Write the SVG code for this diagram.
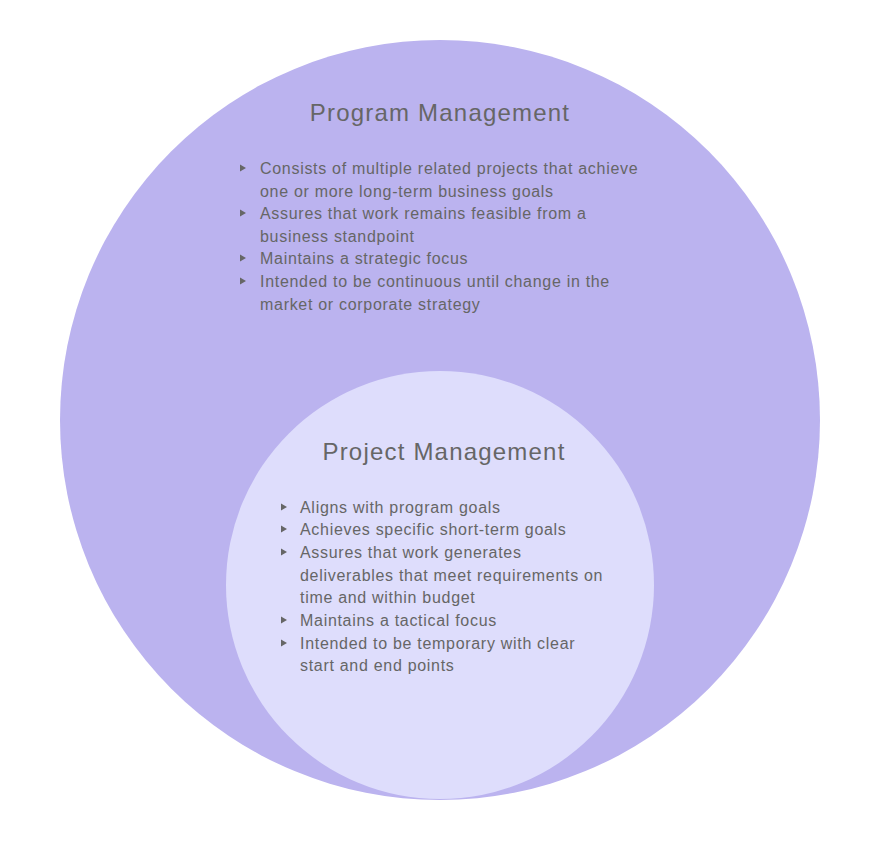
<svg xmlns="http://www.w3.org/2000/svg" width="880" height="860" viewBox="0 0 880 860">
<style>
.t{font-family:"Liberation Sans",Arial,sans-serif;font-size:24px;fill:#666;text-anchor:middle;letter-spacing:1.2px}
.b{font-family:"Liberation Sans",Arial,sans-serif;font-size:16px;fill:#666;letter-spacing:0.7px}
.m{fill:#666}
</style>
<defs>
<path id="tri" d="M0,-3.5 L6,0 L0,3.5 Z"/>
</defs>
<rect width="880" height="860" fill="#fff"/>
<g id="program">
<circle cx="440" cy="420" r="380" fill="#BBB3EF"/>
<text class="t" x="440" y="121">Program Management</text>
<g class="m">
<use href="#tri" x="240" y="168"/>
<use href="#tri" x="240" y="213"/>
<use href="#tri" x="240" y="258"/>
<use href="#tri" x="240" y="281"/>
</g>
<text class="b" x="260" y="174">Consists of multiple related projects that achieve</text>
<text class="b" x="260" y="197">one or more long-term business goals</text>
<text class="b" x="260" y="219">Assures that work remains feasible from a</text>
<text class="b" x="260" y="242">business standpoint</text>
<text class="b" x="260" y="264">Maintains a strategic focus</text>
<text class="b" x="260" y="287">Intended to be continuous until change in the</text>
<text class="b" x="260" y="310">market or corporate strategy</text>
</g>
<g id="project">
<circle cx="440" cy="585" r="214" fill="#DEDDFC"/>
<text class="t" x="444" y="460">Project Management</text>
<g class="m">
<use href="#tri" x="281" y="507"/>
<use href="#tri" x="281" y="529"/>
<use href="#tri" x="281" y="552"/>
<use href="#tri" x="281" y="620"/>
<use href="#tri" x="281" y="643"/>
</g>
<text class="b" x="300" y="513">Aligns with program goals</text>
<text class="b" x="300" y="535">Achieves specific short-term goals</text>
<text class="b" x="300" y="558">Assures that work generates</text>
<text class="b" x="300" y="581">deliverables that meet requirements on</text>
<text class="b" x="300" y="603">time and within budget</text>
<text class="b" x="300" y="626">Maintains a tactical focus</text>
<text class="b" x="300" y="649">Intended to be temporary with clear</text>
<text class="b" x="300" y="671">start and end points</text>
</g>
</svg>
